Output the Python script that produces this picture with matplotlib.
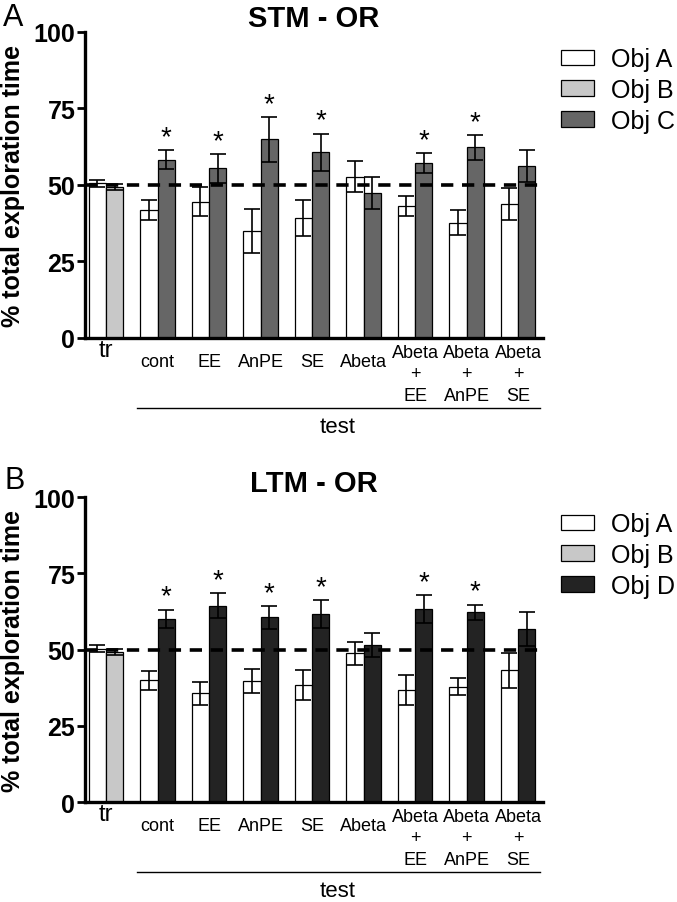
import numpy as np
import matplotlib.pyplot as plt
from matplotlib.patches import Patch

plt.rcParams['font.family'] = ['Liberation Sans', 'DejaVu Sans']

# --- datos ---
grupos = ['tr', 'cont', 'EE', 'AnPE', 'SE', 'Abeta', 'Abeta\n+\nEE', 'Abeta\n+\nAnPE', 'Abeta\n+\nSE']

# panel A (STM)
stm_a = [50.5, 41.7, 44.5, 35.0, 39.2, 52.7, 43.0, 37.7, 43.8]
stm_a_err = [1.0, 3.3, 4.7, 7.3, 6.0, 5.1, 3.3, 4.0, 5.2]
stm_b = 49.3
stm_b_err = 0.9
stm_c = [58.3, 55.4, 64.9, 60.7, 47.4, 57.2, 62.3, 56.2]
stm_c_err = [3.2, 4.7, 7.4, 6.1, 5.1, 3.2, 4.0, 5.2]
stm_sig = [True, True, True, True, False, True, True, False]

# panel B (LTM)
ltm_a = [50.3, 39.9, 35.6, 39.6, 38.3, 48.7, 36.7, 37.8, 43.2]
ltm_a_err = [1.1, 3.2, 3.8, 3.9, 4.9, 3.7, 4.8, 2.7, 5.8]
ltm_b = 49.2
ltm_b_err = 0.9
ltm_d = [60.0, 64.3, 60.5, 61.6, 51.4, 63.3, 62.2, 56.7]
ltm_d_err = [3.1, 4.1, 3.7, 4.7, 3.9, 4.5, 2.5, 5.6]
ltm_sig = [True, True, True, True, False, True, True, False]

fig = plt.figure(figsize=(6.77, 9.03), dpi=100)

W = 0.335
err_kw = dict(ecolor='black', elinewidth=1.2, capsize=6, capthick=1.2)


def panel(ax, titulo, a, a_err, b, b_err, c, c_err, sig, color_c, nombre_c):
    x = np.arange(len(grupos))
    # barras blancas (Obj A)
    ax.bar(x - W / 2, a, W, yerr=a_err, color='white', edgecolor='black',
           linewidth=0.9, error_kw=err_kw, zorder=2)
    # Obj B solo en entrenamiento
    ax.bar([W / 2], [b], W, yerr=[b_err], color='#c8c8c8', edgecolor='black',
           linewidth=0.9, error_kw=err_kw, zorder=2)
    # objeto nuevo en test
    ax.bar(x[1:] + W / 2, c, W, yerr=c_err, color=color_c, edgecolor='black',
           linewidth=0.9, error_kw=err_kw, zorder=2)
    for xi, v, e, s in zip(x[1:] + W / 2, c, c_err, sig):
        if s:
            ax.annotate('*', xy=(xi, v + e), xytext=(0, 0), textcoords='offset points',
                        ha='center', va='bottom', fontsize=20)

    ax.axhline(50, color='black', lw=2.6, dashes=(3.4, 2.4), zorder=4)

    ax.set_xlim(-0.408, 8.485)
    ax.set_ylim(0, 100)
    ax.set_yticks([0, 25, 50, 75, 100])
    ax.set_yticklabels(['0', '25', '50', '75', '100'], fontsize=18, fontweight='bold')
    ax.tick_params(axis='y', length=6, width=2, pad=1)
    ax.set_xticks([])
    for sp in ['top', 'right']:
        ax.spines[sp].set_visible(False)
    for sp in ['left', 'bottom']:
        ax.spines[sp].set_linewidth(2.4)
    ax.set_ylabel('% total exploration time', fontsize=18, fontweight='bold', labelpad=6)
    ax.set_title(titulo, fontsize=21, fontweight='bold', pad=4)

    # etiquetas del eje x
    trans = ax.get_xaxis_transform()
    for xi, g in zip(x, grupos):
        if g == 'tr':
            ax.annotate(g, xy=(xi, 0), xycoords=trans, xytext=(0, -1),
                        textcoords='offset points', ha='center', va='top', fontsize=17)
        elif '\n' in g:
            ax.annotate(g, xy=(xi, 0), xycoords=trans, xytext=(0, -4),
                        textcoords='offset points', ha='center', va='top', fontsize=13,
                        linespacing=1.35)
        else:
            ax.annotate(g, xy=(xi, 0), xycoords=trans, xytext=(0, -11),
                        textcoords='offset points', ha='center', va='top', fontsize=13)

    ax.plot([0.60, 8.43], [-0.23, -0.23], transform=trans, color='black', lw=1.0, clip_on=False)
    ax.text(4.5, -0.29, 'test', transform=trans, ha='center', va='center', fontsize=16)

    handles = [Patch(facecolor='white', edgecolor='black', linewidth=0.9),
               Patch(facecolor='#c8c8c8', edgecolor='black', linewidth=0.9),
               Patch(facecolor=color_c, edgecolor='black', linewidth=0.9)]
    ax.legend(handles, ['Obj A', 'Obj B', nombre_c], loc='upper left',
              bbox_to_anchor=(1.04, 0.95), frameon=False, fontsize=18,
              handlelength=1.3, handleheight=0.6, handletextpad=0.68,
              labelspacing=0.27, borderpad=0, borderaxespad=0)


ax1 = fig.add_axes([0.1256, 0.6246, 0.6765, 0.3389])
panel(ax1, 'STM - OR', stm_a, stm_a_err, stm_b, stm_b_err, stm_c, stm_c_err,
      stm_sig, '#666666', 'Obj C')

ax2 = fig.add_axes([0.1256, 0.1107, 0.6765, 0.3378])
panel(ax2, 'LTM - OR', ltm_a, ltm_a_err, ltm_b, ltm_b_err, ltm_d, ltm_d_err,
      ltm_sig, '#232323', 'Obj D')

fig.text(0.004, 0.997, 'A', fontsize=22, va='top', ha='left')
fig.text(0.006, 0.484, 'B', fontsize=22, va='top', ha='left')

fig.savefig('out.png', dpi=100)
